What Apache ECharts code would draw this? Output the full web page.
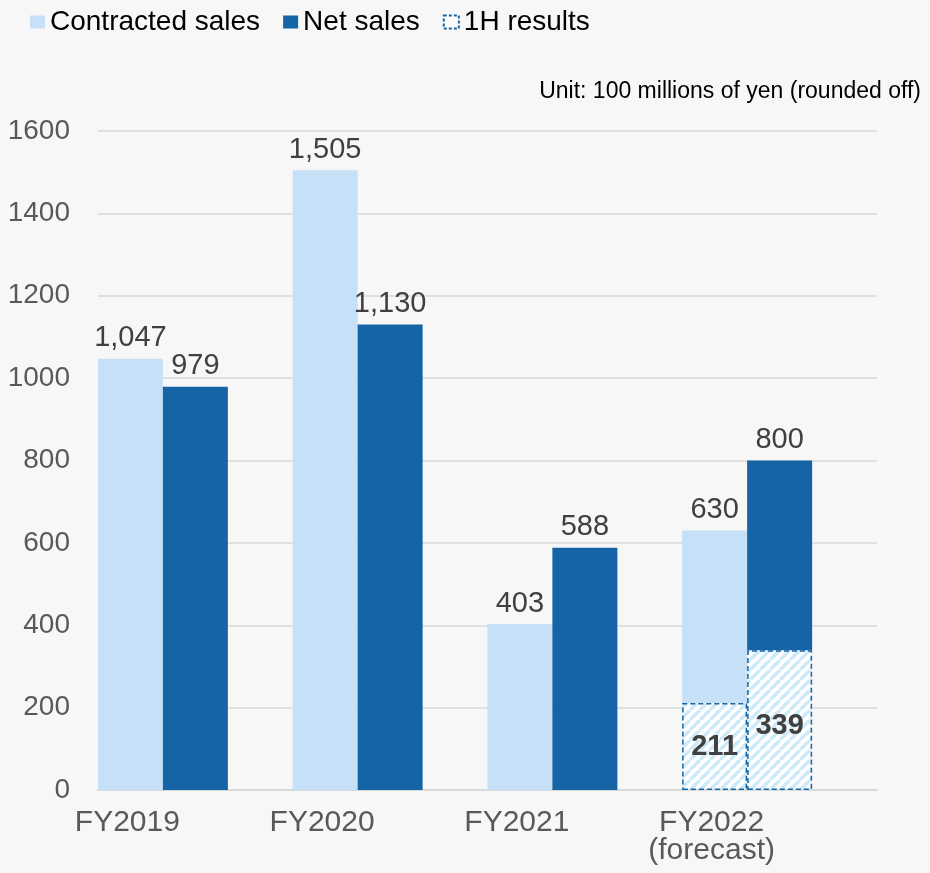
<!DOCTYPE html>
<html>
<head>
<meta charset="utf-8">
<script src="https://cdn.jsdelivr.net/npm/echarts@6/dist/echarts.min.js"></script>
<style>
html,body{margin:0;padding:0;background:#f7f7f7;}
#c{width:930px;height:873px;}
</style>
</head>
<body>
<div id="c"></div>
<script>
const categories = ['FY2019', 'FY2020', 'FY2021', 'FY2022\n(forecast)'];
const contracted = [1047, 1505, 403, 630];
const netSales = [979, 1130, 588, 800];
const contracted1H = [null, null, null, 211];
const net1H = [null, null, null, 339];
const yTicks = [0, 200, 400, 600, 800, 1000, 1200, 1400, 1600];

const LIGHT = '#c6e0f7';
const DARK = '#1464a6';
const FONT = 'Liberation Sans, Arial, sans-serif';
const fmt = v => v.toLocaleString('en-US');

function hatch() {
  const s = 10;
  const cv = document.createElement('canvas');
  cv.width = s; cv.height = s;
  const g = cv.getContext('2d');
  g.fillStyle = '#ffffff';
  g.fillRect(0, 0, s, s);
  g.strokeStyle = '#cdeaf8';
  g.lineWidth = 3.5;
  g.beginPath();
  for (let k = -1; k <= 1; k++) {
    g.moveTo(k * s, s);
    g.lineTo(k * s + s, 0);
  }
  g.stroke();
  return cv;
}
const hatchColor = { image: hatch(), repeat: 'repeat' };

const contractedRest = contracted.map((v, i) => v - (contracted1H[i] || 0));
const netRest = netSales.map((v, i) => v - (net1H[i] || 0));

const chart = echarts.init(document.getElementById('c'), null, { renderer: 'canvas' });

const topLabel = (arr) => ({
  show: true, position: 'top', distance: 6,
  fontFamily: FONT, fontSize: 29, color: '#404040',
  formatter: p => fmt(arr[p.dataIndex])
});
const insideLabel = (dy) => ({
  show: true, position: 'inside', offset: [0, dy],
  fontFamily: FONT, fontSize: 29, fontWeight: 'bold', color: '#404040',
  formatter: p => p.value == null ? '' : fmt(p.value)
});
const hatchStyle = {
  color: hatchColor, borderColor: DARK, borderWidth: 1.5, borderType: [5, 3]
};

chart.setOption({
  backgroundColor: '#f7f7f7',
  animation: false,
  textStyle: { fontFamily: FONT },
  title: {
    text: 'Unit: 100 millions of yen (rounded off)',
    right: 4, top: 75,
    textStyle: { fontSize: 23, fontWeight: 'normal', color: '#000', fontFamily: FONT }
  },
  legend: {
    left: 25, top: 3,
    data: [
      { name: 'Contracted sales', icon: 'rect' },
      { name: 'Net sales', icon: 'rect' },
      { name: '1H results', icon: 'rect', itemStyle: { color: '#ffffff', borderColor: DARK, borderWidth: 2, borderType: [3, 2] } }
    ],
    itemWidth: 15, itemHeight: 13, itemGap: 23,
    textStyle: { fontSize: 28, color: '#000' }
  },
  grid: { left: 98, right: 53, top: 131, bottom: 83, containLabel: false },
  xAxis: {
    type: 'category',
    data: categories,
    axisLine: { lineStyle: { color: '#d9d9d9', width: 2 } },
    axisTick: { show: false },
    axisLabel: {
      interval: 0, hideOverlap: false,
      fontSize: 30, color: '#595959', lineHeight: 28, margin: 19,
      padding: [0, 136, 0, 0]
    }
  },
  yAxis: {
    type: 'value',
    min: yTicks[0], max: yTicks[yTicks.length - 1], interval: 200,
    axisLine: { show: false },
    axisTick: { show: false },
    splitLine: { lineStyle: { color: '#d9d9d9', width: 1.5 } },
    axisLabel: { fontSize: 28, color: '#595959', margin: 28, formatter: v => String(v) }
  },
  series: [
    {
      name: '1H results', type: 'bar', stack: 'c', barWidth: 65, barGap: '0%',
      data: contracted1H, itemStyle: hatchStyle, label: insideLabel(0)
    },
    {
      name: 'Contracted sales', type: 'bar', stack: 'c', barWidth: 65, barGap: '0%',
      data: contractedRest, itemStyle: { color: LIGHT }, label: topLabel(contracted)
    },
    {
      name: '1H results', type: 'bar', stack: 'n', barWidth: 65, barGap: '0%',
      data: net1H, itemStyle: hatchStyle, label: insideLabel(6)
    },
    {
      name: 'Net sales', type: 'bar', stack: 'n', barWidth: 65, barGap: '0%',
      data: netRest, itemStyle: { color: DARK }, label: topLabel(netSales)
    },
    {
      name: 'spacer', type: 'bar', stack: 'd', barWidth: 65, barGap: '0%',
      data: categories.map(() => null)
    }
  ]
});
</script>
</body>
</html>
